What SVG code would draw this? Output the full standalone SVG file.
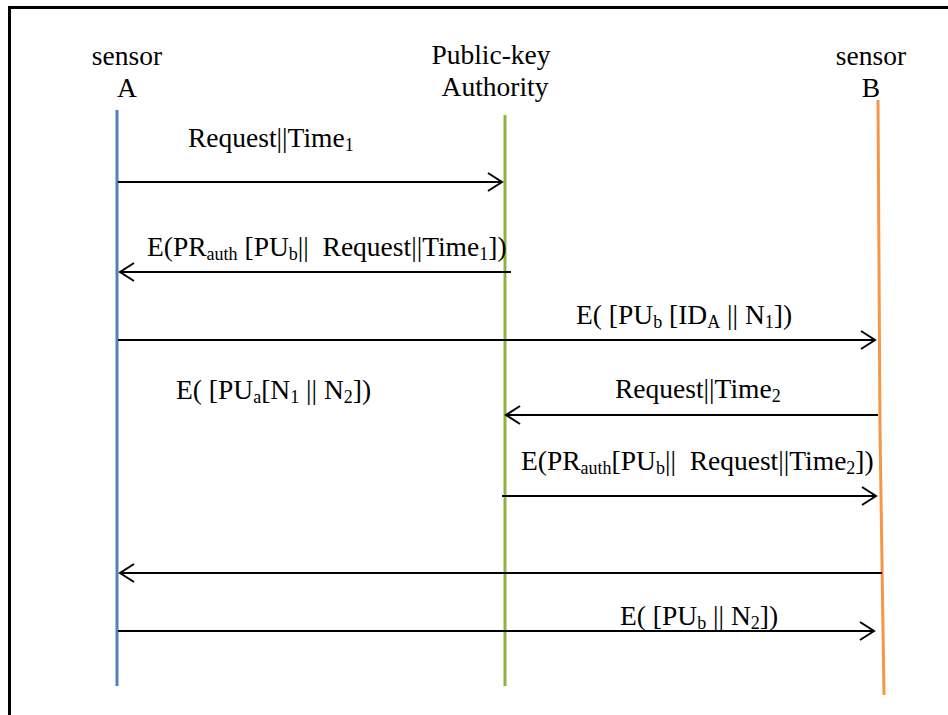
<svg xmlns="http://www.w3.org/2000/svg" width="948" height="715" viewBox="0 0 948 715" font-family="'Liberation Serif', 'Times New Roman', 'DejaVu Serif', serif">
<style>
text{font-family:'Liberation Serif','Times New Roman','DejaVu Serif',serif;font-size:27.5px;fill:#000}
.sub{font-size:18px}
.hd{text-anchor:middle}
.msg{stroke:#000;stroke-width:2;fill:none;marker-end:url(#arr)}
.life{stroke-width:3;fill:none}
</style>
<defs>
<marker id="arr" markerUnits="userSpaceOnUse" viewBox="-16 -11 18 22" refX="0" refY="0" markerWidth="18" markerHeight="22" orient="auto">
<path d="M-14,-9 L0,0 L-14,9" fill="none" stroke="#000" stroke-width="2"/>
</marker>
</defs>
<rect width="948" height="715" fill="#fff"/>
<g id="frame">
<line x1="8" y1="7.5" x2="948" y2="7.5" stroke="#000" stroke-width="3"/>
<line x1="9.5" y1="6" x2="9.5" y2="715" stroke="#000" stroke-width="3"/>
</g>
<g id="sensorA">
<text class="hd" x="127" y="65">sensor</text>
<text class="hd" x="127" y="97">A</text>
<line class="life" x1="117" y1="110" x2="117" y2="686" stroke="#4F81BD"/>
</g>
<g id="authority">
<text class="hd" x="491" y="64">Public-key</text>
<text class="hd" x="495" y="96">Authority</text>
<line class="life" x1="505" y1="115" x2="505" y2="686" stroke="#8DB43E"/>
</g>
<g id="sensorB">
<text class="hd" x="871" y="65">sensor</text>
<text class="hd" x="871" y="97">B</text>
<polyline class="life" points="878,100 880,430 884,695" stroke="#F79646"/>
</g>
<g id="connectors">
<line class="msg" x1="118" y1="182" x2="502" y2="182"/>
<line class="msg" x1="511" y1="272" x2="120" y2="272"/>
<line class="msg" x1="118" y1="340" x2="875" y2="340"/>
<line class="msg" x1="878" y1="415" x2="506" y2="415"/>
<line class="msg" x1="502" y1="496" x2="876" y2="496"/>
<line class="msg" x1="882" y1="573" x2="120" y2="573"/>
<line class="msg" x1="118" y1="631" x2="874" y2="631"/>
</g>
<g id="labels">
<text x="188" y="147">Request||Time<tspan class="sub" dy="4">1</tspan></text>
<text x="147" y="256">E(PR<tspan class="sub" dy="4">auth</tspan><tspan dy="-4"> [PU</tspan><tspan class="sub" dy="4">b</tspan><tspan dy="-4">||&#160; Request||Time</tspan><tspan class="sub" dy="4">1</tspan><tspan dy="-4">])</tspan></text>
<text x="576" y="324">E( [PU<tspan class="sub" dy="4">b</tspan><tspan dy="-4"> [ID</tspan><tspan class="sub" dy="4">A</tspan><tspan dy="-4"> || N</tspan><tspan class="sub" dy="4">1</tspan><tspan dy="-4">])</tspan></text>
<text x="176" y="399">E( [PU<tspan class="sub" dy="4">a</tspan><tspan dy="-4">[N</tspan><tspan class="sub" dy="4">1</tspan><tspan dy="-4"> || N</tspan><tspan class="sub" dy="4">2</tspan><tspan dy="-4">])</tspan></text>
<text x="615" y="398">Request||Time<tspan class="sub" dy="4">2</tspan></text>
<text x="521" y="470">E(PR<tspan class="sub" dy="4">auth</tspan><tspan dy="-4">[PU</tspan><tspan class="sub" dy="4">b</tspan><tspan dy="-4">||&#160; Request||Time</tspan><tspan class="sub" dy="4">2</tspan><tspan dy="-4">])</tspan></text>
<text x="620" y="625">E( [PU<tspan class="sub" dy="4">b</tspan><tspan dy="-4"> || N</tspan><tspan class="sub" dy="4">2</tspan><tspan dy="-4">])</tspan></text>
</g>
</svg>
